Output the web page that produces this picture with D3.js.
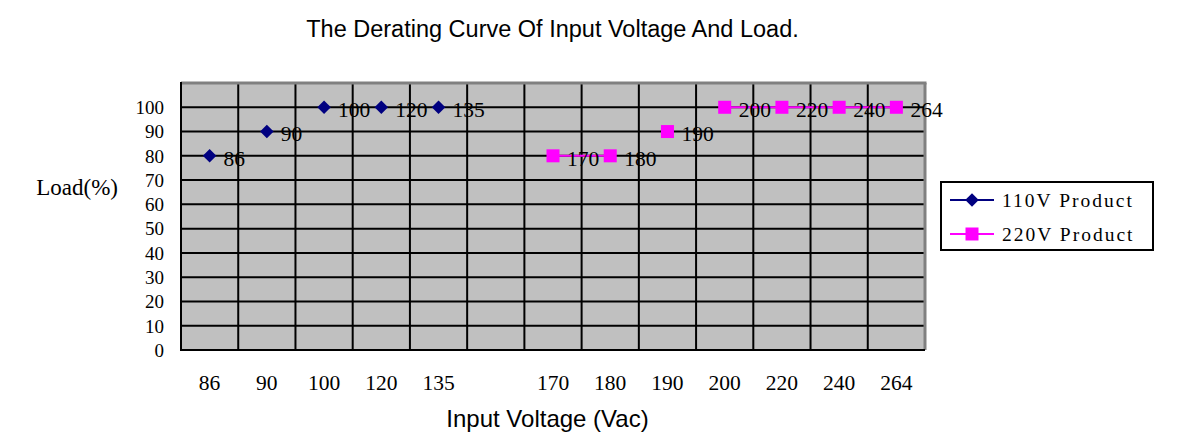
<!DOCTYPE html>
<html><head><meta charset="utf-8">
<script src="https://cdn.jsdelivr.net/npm/d3@7/dist/d3.min.js"></script>
<style>
body{margin:0;background:#fff;}
svg{display:block;}
</style></head>
<body>
<svg id="chart" width="1182" height="438"></svg>
<script>
const categories = ["86","90","100","120","135","","170","180","190","200","220","240","264"];
const yTicks = [0,10,20,30,40,50,60,70,80,90,100];
const cats110 = ["86","90","100","120","135"];
const values110 = [80,90,100,100,100];
const cats220 = ["170","180","190","200","220","240","264"];
const values220 = [80,80,90,100,100,100,100];
const lineGroups220 = [["170","180"],["200","220","240","264"]];
const seriesNames = ["110V Product","220V Product"];

const svg = d3.select("#chart");
const L=181, R=925, T=83, B=350;
const serif = "'Liberation Serif','Times New Roman',serif";
const sans = "Arial,'Liberation Sans',sans-serif";

const x = d3.scaleBand().domain(categories).range([L,R]).padding(0);
const y = d3.scaleLinear().domain([0,110]).range([B,T]);

svg.append("rect").attr("x",L).attr("y",T).attr("width",R-L).attr("height",B-T).attr("fill","#C0C0C0");

svg.append("g").selectAll("line").data(yTicks.slice(1)).join("line")
  .attr("x1",L).attr("x2",R).attr("y1",d=>y(d)).attr("y2",d=>y(d))
  .attr("stroke","#000").attr("stroke-width",2);
svg.append("g").selectAll("line").data(categories.slice(1)).join("line")
  .attr("x1",d=>x(d)).attr("x2",d=>x(d)).attr("y1",T).attr("y2",B)
  .attr("stroke","#000").attr("stroke-width",2);

svg.append("line").attr("x1",L).attr("x2",R+1.5).attr("y1",T).attr("y2",T).attr("stroke","#808080").attr("stroke-width",3);
svg.append("line").attr("x1",R).attr("x2",R).attr("y1",T).attr("y2",B).attr("stroke","#808080").attr("stroke-width",3);
svg.append("line").attr("x1",L).attr("x2",L).attr("y1",T-1).attr("y2",B+1).attr("stroke","#000").attr("stroke-width",2);
svg.append("line").attr("x1",L-1).attr("x2",R).attr("y1",B).attr("y2",B).attr("stroke","#000").attr("stroke-width",2);

svg.append("g").selectAll("text").data(yTicks).join("text")
  .attr("x",164).attr("y",d=>y(d)).attr("dy","0.36em")
  .attr("text-anchor","end").attr("font-family",serif).attr("font-size",19)
  .text(d=>d);
svg.append("g").selectAll("text").data(categories).join("text")
  .attr("x",d=>x(d)+x.bandwidth()/2).attr("y",390)
  .attr("text-anchor","middle").attr("font-family",serif).attr("font-size",21.5)
  .text(d=>d);

svg.append("text").attr("x",552.5).attr("y",37).attr("text-anchor","middle")
  .attr("font-family",sans).attr("font-size",23.5).text("The Derating Curve Of Input Voltage And Load.");
svg.append("text").attr("x",547.5).attr("y",427).attr("text-anchor","middle")
  .attr("font-family",sans).attr("font-size",24).text("Input Voltage (Vac)");
svg.append("text").attr("x",118).attr("y",195).attr("text-anchor","end")
  .attr("font-family",serif).attr("font-size",23).text("Load(%)");

const cx = c => x(c)+x.bandwidth()/2;
const d110 = cats110.map((c,i)=>({c,v:values110[i]}));
const d220 = cats220.map((c,i)=>({c,v:values220[i]}));
const line = d3.line().x(d=>cx(d.c)).y(d=>y(d.v));

svg.append("g").selectAll("path").data(lineGroups220.map(g=>g.map(c=>d220.find(d=>d.c===c)))).join("path")
  .attr("d",line).attr("fill","none").attr("stroke","#FF00FF").attr("stroke-width",2);

svg.append("g").selectAll("path").data(d110).join("path")
  .attr("d",d3.symbol().type(d3.symbolSquare).size(92))
  .attr("transform",d=>`translate(${cx(d.c)},${y(d.v)}) rotate(45)`)
  .attr("fill","#000080");
svg.append("g").selectAll("rect").data(d220).join("rect")
  .attr("x",d=>cx(d.c)-6.5).attr("y",d=>y(d.v)-6.5).attr("width",13).attr("height",13)
  .attr("fill","#FF00FF");

svg.append("g").selectAll("text").data(d110.concat(d220)).join("text")
  .attr("x",d=>cx(d.c)+14).attr("y",d=>y(d.v)+2).attr("dy","0.36em")
  .attr("font-family",serif).attr("font-size",21.5)
  .text(d=>d.c);

const lg = svg.append("g");
lg.append("rect").attr("x",941).attr("y",182).attr("width",212).attr("height",68)
  .attr("fill","#fff").attr("stroke","#000").attr("stroke-width",2);
const legY = [200,234];
const colors = ["#000080","#FF00FF"];
seriesNames.forEach((n,i)=>{
  lg.append("line").attr("x1",950).attr("x2",994).attr("y1",legY[i]).attr("y2",legY[i])
    .attr("stroke",colors[i]).attr("stroke-width",2);
  if(i===0){
    lg.append("path").attr("d",d3.symbol().type(d3.symbolSquare).size(92))
      .attr("transform",`translate(972,${legY[i]}) rotate(45)`).attr("fill",colors[i]);
  } else {
    lg.append("rect").attr("x",972-6.5).attr("y",legY[i]-6.5).attr("width",13).attr("height",13).attr("fill",colors[i]);
  }
  lg.append("text").attr("x",1002).attr("y",legY[i]).attr("dy","0.36em")
    .attr("font-family",serif).attr("font-size",19.5).attr("letter-spacing",2)
    .text(n);
});
</script>
</body></html>
